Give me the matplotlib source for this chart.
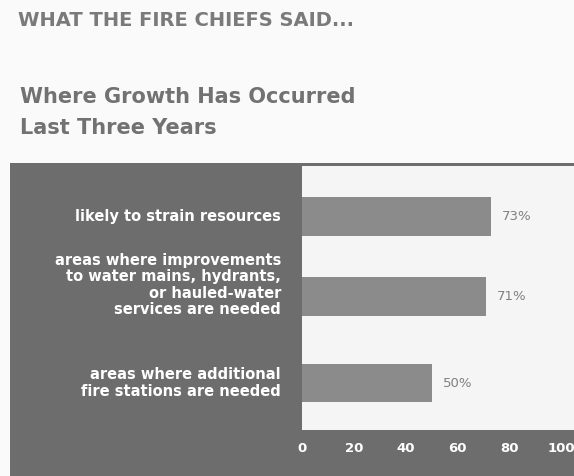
import matplotlib.pyplot as plt
import matplotlib.patches as mpatches
import matplotlib.transforms as mtransforms

categories = [
    "likely to strain resources",
    "areas where improvements\nto water mains, hydrants,\nor hauled-water\nservices are needed",
    "areas where additional\nfire stations are needed",
]
values = [73, 71, 50]
xticks = [0, 20, 40, 60, 80, 100]

header = "WHAT THE FIRE CHIEFS SAID..."
title_lines = ["Where Growth Has Occurred", "Last Three Years"]

# layout: bar rows and slight vertical nudges for the left labels
ypos = [0, 0.96, 1.99]
label_nudge = [0, -0.14, 0]

panel_grey = "#6d6d6d"
bar_grey = "#8b8b8b"
text_grey = "#727272"

W, H = 574, 476
fig = plt.figure(figsize=(W / 100, H / 100), dpi=100, facecolor="#fafafa")

# dark panel behind the chart
fig.patches.append(mpatches.Rectangle((10 / W, 0), 1, (H - 163) / H,
                                      transform=fig.transFigure,
                                      facecolor=panel_grey, edgecolor="none",
                                      zorder=-5))

fig.text(18 / W, 1 - 21 / H, header, fontsize=14, fontweight="bold",
         color="#7a7a7a", va="center", ha="left")

for line, y in zip(title_lines, [97, 128]):
    fig.text(20 / W, 1 - y / H, line, fontsize=15, color=text_grey,
             va="center", ha="left", fontweight="bold")

ax = fig.add_axes([302 / W, (H - 430) / H, (W - 302) / W, (430 - 166) / H])
ax.set_zorder(2)
ax.set_facecolor("#f5f5f5")
ax.barh(ypos, values, height=0.46, color=bar_grey, zorder=2)
ax.set_xlim(0, 105)
ax.set_ylim(2.55, -0.6)

for y, v in zip(ypos, values):
    ax.annotate(f"{v}%", (v, y), xytext=(8, 0), textcoords="offset points",
                va="center", ha="left", fontsize=9.5, color="#808080")

lab_trans = mtransforms.blended_transform_factory(ax.transAxes, ax.transData)
for y, n, lab in zip(ypos, label_nudge, categories):
    ax.text(-0.077, y + n, lab, transform=lab_trans, ha="right", va="center",
            fontsize=10.5, fontweight="bold", color="white", linespacing=1.1)

ax.set_xticks(xticks)
ax.set_xticklabels([str(t) for t in xticks])
ax.set_yticks([])
ax.tick_params(axis="x", length=0, pad=9, labelcolor="white", labelsize=9.5)
for t in ax.get_xticklabels():
    t.set_fontweight("bold")
for s in ax.spines.values():
    s.set_visible(False)

fig.savefig("out.png", dpi=100, facecolor=fig.get_facecolor())
